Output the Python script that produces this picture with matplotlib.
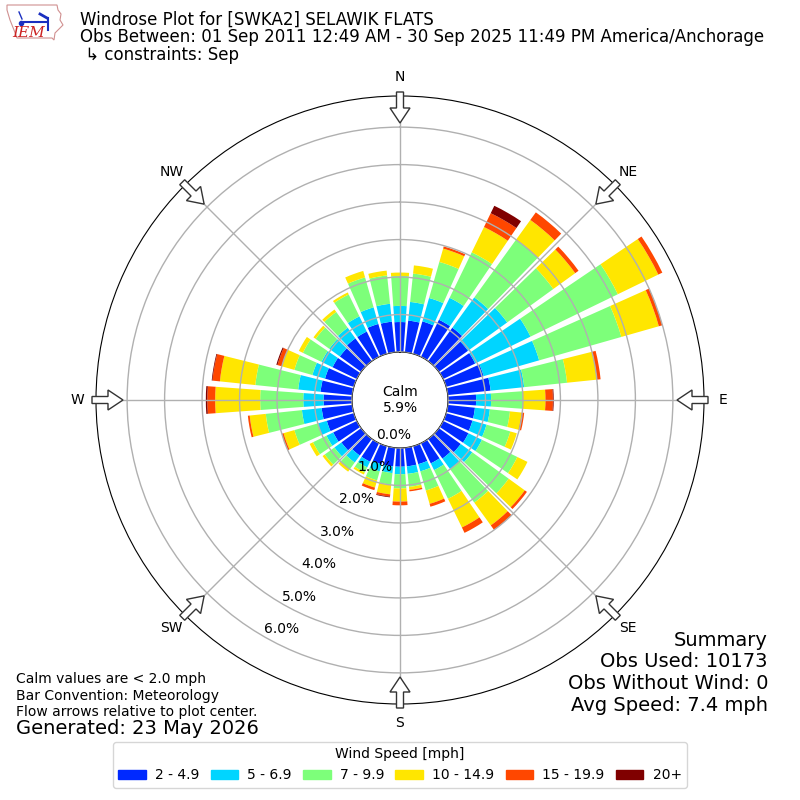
import numpy as np
import matplotlib
matplotlib.use("Agg")
import matplotlib.pyplot as plt
from matplotlib.patches import FancyArrow, Patch, Polygon

# Wind direction bins (degrees, meteorological) and speed bins
directions = np.arange(0, 360, 10)
speed_labels = ["2 - 4.9", "5 - 6.9", "7 - 9.9", "10 - 14.9", "15 - 19.9", "20+"]
compass = ["N", "NE", "E", "SE", "S", "SW", "W", "NW"]
rings = [0, 1, 2, 3, 4, 5, 6]

# Frequency [%] of each speed bin by direction
spd_2_5 = [0.80, 0.85, 0.90, 1.10, 1.10, 0.96, 0.95, 1.04, 1.15, 0.75,
           0.73, 0.73, 0.75, 0.72, 0.65, 0.60, 0.50, 0.50, 0.50, 0.50,
           0.50, 0.55, 0.55, 0.65, 0.70, 0.75, 0.82, 0.76, 0.85, 0.80,
           0.72, 0.70, 0.75, 0.75, 0.83, 0.82]
spd_5_7 = [0.43, 0.50, 0.65, 0.65, 1.00, 1.29, 1.64, 1.54, 0.90, 0.40,
           0.40, 0.39, 0.40, 0.38, 0.35, 0.20, 0.20, 0.20, 0.20, 0.18,
           0.20, 0.17, 0.23, 0.23, 0.20, 0.25, 0.53, 0.54, 0.60, 0.35,
           0.33, 0.35, 0.35, 0.45, 0.46, 0.48]
spd_7_10 = [0.80, 0.76, 1.00, 1.35, 1.90, 1.52, 2.59, 2.28, 1.15, 0.85,
            0.54, 0.66, 1.05, 1.20, 1.10, 0.85, 0.53, 0.35, 0.38, 0.31,
            0.25, 0.15, 0.22, 0.32, 0.40, 0.65, 0.97, 1.15, 1.15, 0.50,
            0.55, 0.45, 0.52, 0.65, 0.83, 0.76]
spd_10_15 = [0.09, 0.22, 0.37, 0.75, 0.65, 0.72, 1.20, 1.04, 0.80, 0.60,
             0.31, 0.18, 0.30, 0.53, 0.75, 0.85, 0.37, 0.08, 0.35, 0.26,
             0.20, 0.06, 0.08, 0.07, 0.10, 0.30, 0.43, 1.20, 0.95, 0.35,
             0.12, 0.07, 0.08, 0.06, 0.18, 0.13]
spd_15_20 = [0.00, 0.00, 0.06, 0.41, 0.25, 0.11, 0.12, 0.10, 0.10, 0.20,
             0.07, 0.00, 0.00, 0.07, 0.15, 0.16, 0.08, 0.04, 0.10, 0.06,
             0.07, 0.00, 0.00, 0.00, 0.00, 0.05, 0.05, 0.21, 0.20, 0.12,
             0.00, 0.00, 0.00, 0.00, 0.00, 0.00]
spd_20 = [0.00, 0.00, 0.00, 0.22, 0.00, 0.00, 0.00, 0.00, 0.00, 0.02,
          0.00, 0.00, 0.00, 0.00, 0.00, 0.00, 0.00, 0.00, 0.00, 0.02,
          0.00, 0.00, 0.00, 0.00, 0.00, 0.00, 0.00, 0.04, 0.02, 0.03,
          0.00, 0.00, 0.00, 0.00, 0.00, 0.00]

calm_pct = 5.9
series = [spd_2_5, spd_5_7, spd_7_10, spd_10_15, spd_15_20, spd_20]
colors = plt.cm.jet(np.linspace(0, 1, 7)[1:])

fig = plt.figure(figsize=(8, 8), dpi=100)

ax = fig.add_axes([0.12, 0.12, 0.76, 0.76], projection="polar")
ax.set_theta_zero_location("N")
ax.set_theta_direction(-1)
ax.set_rorigin(-1.28)
ax.set_ylim(0, 6.83)

theta = np.deg2rad(directions)
base = np.zeros(len(directions))
for vals, col in zip(series, colors):
    vals = np.array(vals)
    ax.bar(theta, vals, width=np.deg2rad(8.2), bottom=base, color=col,
           linewidth=0, zorder=1)
    base += vals

ax.set_rgrids(rings, labels=["%.1f%%" % r for r in rings], angle=210,
              fontsize=10)
ax.set_thetagrids(range(0, 360, 45), labels=compass, fontsize=10)
ax.tick_params(axis="x", pad=3)
ax.grid(True, color="#b0b0b0", lw=1)
ax.set_axisbelow(False)

ax.text(0.5, 0.5, "Calm\n%.1f%%" % calm_pct, transform=ax.transAxes,
        ha="center", va="center", fontsize=10)

# overlay in pixel units for arrows and the logo
ov = fig.add_axes([0, 0, 1, 1], zorder=5)
ov.set_xlim(0, 800)
ov.set_ylim(800, 0)
ov.axis("off")

for ang in range(0, 360, 45):
    u = np.array([np.sin(np.deg2rad(ang)), -np.cos(np.deg2rad(ang))])
    tail = np.array([400, 400]) + 308 * u
    d = -31 * u
    ov.add_patch(FancyArrow(tail[0], tail[1], d[0], d[1], width=7,
                            head_width=20, head_length=15,
                            length_includes_head=True, fc="white",
                            ec="#333333", lw=1))

# rough IEM logo
ov.add_patch(Polygon([(7, 5), (57, 5), (58, 10), (61, 14), (60, 20),
                      (63, 25), (58, 30), (55, 33), (54, 40), (52, 38),
                      (17, 38), (14, 30), (10, 20), (7, 10)], closed=True,
                     fc="white", ec="#d09090", lw=0.8))
ov.plot([24, 46], [22, 22], color="#1a2fc0", lw=1.5)
ov.plot([19, 22], [12, 19], color="#1a2fc0", lw=1)
ov.plot([40, 47], [14, 18], color="#1a2fc0", lw=2)
ov.plot([48, 48], [18, 30], color="#1a2fc0", lw=1.5)
ov.plot([21], [23], marker="o", ms=3, color="#1a2fc0")
ov.text(29, 33, "IEM", color="#cc2222", fontsize=11, family="serif",
        style="italic", ha="center", va="center")

# header
fig.text(80 / 800, 1 - 20 / 800, "Windrose Plot for [SWKA2] SELAWIK FLATS",
         fontsize=12, va="center")
fig.text(80 / 800, 1 - 37 / 800,
         "Obs Between: 01 Sep 2011 12:49 AM - 30 Sep 2025 11:49 PM "
         "America/Anchorage", fontsize=12, va="center")
fig.text(80 / 800, 1 - 55 / 800, " \u21b3 constraints: Sep", fontsize=12,
         va="center")

# footer notes
fig.text(16 / 800, 1 - 679 / 800, "Calm values are < 2.0 mph", fontsize=10,
         va="center")
fig.text(16 / 800, 1 - 696 / 800, "Bar Convention: Meteorology", fontsize=10,
         va="center")
fig.text(16 / 800, 1 - 712 / 800, "Flow arrows relative to plot center.",
         fontsize=10, va="center")
fig.text(16 / 800, 1 - 729 / 800, "Generated: 23 May 2026", fontsize=14,
         va="center")

summary = ["Summary", "Obs Used: 10173", "Obs Without Wind: 0",
           "Avg Speed: 7.4 mph"]
for i, line in enumerate(summary):
    fig.text(768 / 800, 1 - (640 + 21.7 * i) / 800, line, fontsize=14,
             ha="right", va="center")

handles = [Patch(color=c) for c in colors]
fig.legend(handles, speed_labels, loc="lower center", ncol=6,
           bbox_to_anchor=(0.5, 0.0065), title="Wind Speed [mph]",
           fontsize=10, title_fontsize=10, handlelength=2.0,
           handleheight=0.6, handletextpad=0.65, columnspacing=0.8)

fig.savefig("out.png", dpi=100)
